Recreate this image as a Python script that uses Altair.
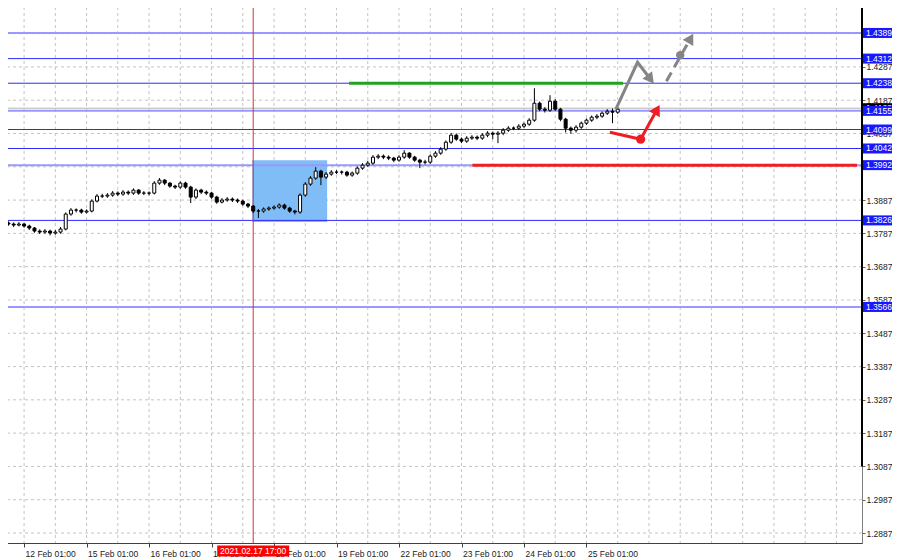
import altair as alt
import pandas as pd

# ---------------- data ----------------
# trading-hour index of each 2-hour bar (0 = 11 Feb 01:00, weekends skipped)
bar_hours = list(range(18, 254, 2))
first_open = 1.3818
close = [
    1.3815, 1.3812, 1.3815, 1.3809, 1.3803, 1.3794, 1.3791, 1.3794, 1.3788, 1.3791,
    1.3800, 1.3845, 1.3857, 1.3857, 1.3851, 1.3854, 1.3884, 1.3899, 1.3899, 1.3902,
    1.3908, 1.3905, 1.3911, 1.3908, 1.3917, 1.3908, 1.3908, 1.3908, 1.3938, 1.3947,
    1.3938, 1.3929, 1.3926, 1.3938, 1.3926, 1.3896, 1.3917, 1.3911, 1.3908, 1.3896,
    1.3881, 1.3887, 1.3890, 1.3887, 1.3884, 1.3875, 1.3869, 1.3854, 1.3854, 1.3860,
    1.3863, 1.3866, 1.3872, 1.3863, 1.3854, 1.3851, 1.3902, 1.3935, 1.3953, 1.3974,
    1.3956, 1.3965, 1.3971, 1.3971, 1.3971, 1.3962, 1.3968, 1.3983, 1.3992, 1.3998,
    1.4016, 1.4019, 1.4016, 1.4013, 1.4007, 1.4016, 1.4028, 1.4016, 1.4007, 1.4001,
    1.4001, 1.4019, 1.4028, 1.4040, 1.4061, 1.4082, 1.4070, 1.4064, 1.4073, 1.4076,
    1.4073, 1.4082, 1.4088, 1.4085, 1.4088, 1.4097, 1.4103, 1.4103, 1.4109, 1.4115,
    1.4127, 1.4178, 1.4160, 1.4157, 1.4184, 1.4160, 1.4130, 1.4103, 1.4097, 1.4106,
    1.4118, 1.4127, 1.4136, 1.4139, 1.4148, 1.4154, 1.4151, 1.4160,
]
high = [
    1.3823, 1.3820, 1.3821, 1.3819, 1.3813, 1.3806, 1.3799, 1.3800, 1.3798, 1.3797,
    1.3806, 1.3850, 1.3863, 1.3862, 1.3861, 1.3859, 1.3889, 1.3905, 1.3906, 1.3908,
    1.3914, 1.3913, 1.3917, 1.3916, 1.3922, 1.3920, 1.3914, 1.3913, 1.3944, 1.3953,
    1.3950, 1.3941, 1.3933, 1.3943, 1.3942, 1.3930, 1.3922, 1.3921, 1.3916, 1.3912,
    1.3900, 1.3893, 1.3896, 1.3895, 1.3892, 1.3888, 1.3879, 1.3872, 1.3860, 1.3865,
    1.3868, 1.3871, 1.3877, 1.3876, 1.3867, 1.3858, 1.3907, 1.3941, 1.3959, 1.3986,
    1.3978, 1.3971, 1.3977, 1.3977, 1.3976, 1.3975, 1.3973, 1.3988, 1.3998, 1.4005,
    1.4022, 1.4025, 1.4024, 1.4021, 1.4017, 1.4022, 1.4037, 1.4031, 1.4020, 1.4011,
    1.4008, 1.4024, 1.4034, 1.4046, 1.4066, 1.4089, 1.4087, 1.4075, 1.4079, 1.4082,
    1.4081, 1.4088, 1.4094, 1.4093, 1.4094, 1.4103, 1.4109, 1.4108, 1.4115, 1.4120,
    1.4133, 1.4223, 1.4183, 1.4166, 1.4202, 1.4190, 1.4164, 1.4134, 1.4108, 1.4112,
    1.4123, 1.4132, 1.4141, 1.4145, 1.4153, 1.4160, 1.4162, 1.4167,
]
low = [
    1.3810, 1.3806, 1.3808, 1.3804, 1.3797, 1.3789, 1.3785, 1.3786, 1.3781, 1.3783,
    1.3786, 1.3796, 1.3840, 1.3850, 1.3846, 1.3847, 1.3850, 1.3880, 1.3893, 1.3894,
    1.3897, 1.3899, 1.3900, 1.3902, 1.3903, 1.3903, 1.3902, 1.3901, 1.3904, 1.3933,
    1.3932, 1.3924, 1.3920, 1.3921, 1.3921, 1.3878, 1.3890, 1.3905, 1.3902, 1.3891,
    1.3876, 1.3877, 1.3882, 1.3881, 1.3878, 1.3870, 1.3863, 1.3848, 1.3833, 1.3849,
    1.3855, 1.3858, 1.3861, 1.3858, 1.3849, 1.3844, 1.3846, 1.3897, 1.3930, 1.3948,
    1.3932, 1.3950, 1.3960, 1.3965, 1.3964, 1.3957, 1.3957, 1.3963, 1.3978, 1.3987,
    1.3993, 1.4010, 1.4010, 1.4007, 1.4001, 1.4002, 1.4011, 1.4011, 1.4002, 1.3983,
    1.3994, 1.3996, 1.4014, 1.4023, 1.4035, 1.4056, 1.4065, 1.4058, 1.4059, 1.4068,
    1.4067, 1.4068, 1.4076, 1.4070, 1.4058, 1.4082, 1.4092, 1.4097, 1.4098, 1.4104,
    1.4110, 1.4122, 1.4154, 1.4150, 1.4152, 1.4155, 1.4124, 1.4090, 1.4086, 1.4090,
    1.4101, 1.4113, 1.4122, 1.4130, 1.4134, 1.4143, 1.4118, 1.4146,
]

date_tick_hours = [24, 48, 72, 96, 120, 144, 168, 192, 216, 240]
date_labels = ["12 Feb 01:00", "15 Feb 01:00", "16 Feb 01:00", "17 Feb 01:00", "18 Feb 01:00",
               "19 Feb 01:00", "22 Feb 01:00", "23 Feb 01:00", "24 Feb 01:00", "25 Feb 01:00"]
grid_hours = [24, 36, 48, 60, 72, 84, 96, 108, 120, 132, 144, 156, 168, 180, 192, 204,
              216, 228, 240, 252, 264, 276, 288, 300, 312, 324, 336]
price_ticks = [1.2887, 1.2987, 1.3087, 1.3187, 1.3287, 1.3387, 1.3487, 1.3587, 1.3687,
               1.3787, 1.3887, 1.3987, 1.4087, 1.4187, 1.4287, 1.4387]

levels_dark = [1.4312, 1.4238, 1.4099, 1.4042, 1.3826]
levels_light = [1.4389, 1.4155, 1.3992, 1.3566]
current_price = [1.4163]
scale_bar_prices = [1.4485, 1.3087]

zone_hours = [111.6, 140.4]
zone_prices = [1.3821, 1.4007]
resistance_hours = [148.8, 254.0]
resistance_price = [1.4238]
support_hours = [196.2, 343.9]
support_price = [1.3992]
crosshair_hour = [112]
crosshair_text = ["2021.02.17 17:00"]

gray_path_h = [251.3, 259.6, 264.6]
gray_path_p = [1.4160, 1.4301, 1.4250]
gray_dash_h = [270.7, 280.0]
gray_dash_p = [1.4244, 1.4373]
gray_dot = [276.0, 1.4322]
red_path_h = [249.0, 260.8, 267.1]
red_path_p = [1.4091, 1.4070, 1.4159]
red_dot = [260.8, 1.4070]

# ---------------- chart ----------------
FONT = "Liberation Sans"
FS = 8.5
xs = alt.Scale(domain=[16.67, 343.9], nice=False, zero=False)
ys = alt.Scale(domain=[1.2857, 1.4485], nice=False, zero=False)

label_expr = "[" + ",".join("'%s'" % s for s in date_labels) + "][round(datum.value/24) - 1]"
x_axis = alt.Axis(values=date_tick_hours, labelExpr=label_expr, title=None, grid=False,
                  orient="bottom", labelAlign="left", labelBaseline="top", labelPadding=2,
                  labelFlush=False, labelOverlap=False, labelBound=False, tickSize=4,
                  tickColor="#404040", domainColor="#404040", labelFont=FONT,
                  labelFontSize=FS, labelColor="#1a1a1a", labelOffset=1)
y_axis = alt.Axis(values=price_ticks, format=".4f", orient="right", title=None, grid=False,
                  tickSize=3, tickColor="#606060", domainColor="#808080", labelPadding=1,
                  labelFont=FONT, labelFontSize=FS, labelColor="#1a1a1a",
                  labelOverlap=False, labelFlush=False, labelBound=False)


def X(field):
    return alt.X(field, type="quantitative", scale=xs, axis=x_axis)


def Y(field):
    return alt.Y(field, type="quantitative", scale=ys, axis=y_axis)


opens = [first_open] + close[:-1]
bars = pd.DataFrame({"h": bar_hours, "open": opens, "close": close, "high": high, "low": low})

grid_v = alt.Chart(pd.DataFrame({"h": grid_hours})).mark_rule(
    color="#c4c4c4", strokeDash=[3, 3], strokeWidth=1).encode(x=X("h"))
grid_h = alt.Chart(pd.DataFrame({"p": price_ticks})).mark_rule(
    color="#c4c4c4", strokeDash=[3, 3], strokeWidth=1).encode(y=Y("p"))

zone = alt.Chart(pd.DataFrame({"h1": [zone_hours[0]], "h2": [zone_hours[1]],
                               "p1": [zone_prices[0]], "p2": [zone_prices[1]]})).mark_rect(
    color="#80bcf6", opacity=1).encode(x=X("h1"), x2="h2", y=Y("p1"), y2="p2")

lv_dark = alt.Chart(pd.DataFrame({"p": levels_dark})).mark_rule(
    color="#2a2aff", strokeWidth=1).encode(y=Y("p"))
lv_light = alt.Chart(pd.DataFrame({"p": levels_light})).mark_rule(
    color="#9898ff", strokeWidth=2).encode(y=Y("p"))
cur_line = alt.Chart(pd.DataFrame({"p": current_price})).mark_rule(
    color="#b4b4b4", strokeWidth=1).encode(y=Y("p"))

cross = alt.Chart(pd.DataFrame({"h": crosshair_hour})).mark_rule(
    color="#e03030", strokeWidth=1).encode(x=X("h"))

wicks = alt.Chart(bars).mark_rule(color="black", strokeWidth=1).encode(
    x=X("h"), y=Y("low"), y2="high")
bodies = alt.Chart(bars).mark_bar(width=3, stroke="black", strokeWidth=1).encode(
    x=X("h"), y=Y("open"), y2="close",
    fill=alt.condition("datum.close >= datum.open", alt.value("white"), alt.value("black")))

res = alt.Chart(pd.DataFrame({"h1": [resistance_hours[0]], "h2": [resistance_hours[1]],
                              "p": resistance_price})).mark_rule(
    color="#1fa21f", strokeWidth=3).encode(x=X("h1"), x2="h2", y=Y("p"))
sup = alt.Chart(pd.DataFrame({"h1": [support_hours[0]], "h2": [support_hours[1]],
                              "p": support_price})).mark_rule(
    color="#f01e1e", strokeWidth=3).encode(x=X("h1"), x2="h2", y=Y("p"))

gray_path = alt.Chart(pd.DataFrame({"h": gray_path_h, "p": gray_path_p, "i": [0, 1, 2]})).mark_line(
    color="#858585", strokeWidth=3).encode(x=X("h"), y=Y("p"), order="i:Q")
gray_dash = alt.Chart(pd.DataFrame({"h": gray_dash_h, "p": gray_dash_p, "i": [0, 1]})).mark_line(
    color="#858585", strokeWidth=3, strokeDash=[10, 6]).encode(x=X("h"), y=Y("p"), order="i:Q")
red_path = alt.Chart(pd.DataFrame({"h": red_path_h, "p": red_path_p, "i": [0, 1, 2]})).mark_line(
    color="#ee1c25", strokeWidth=3).encode(x=X("h"), y=Y("p"), order="i:Q")

head_gray1 = alt.Chart(pd.DataFrame({"h": [gray_path_h[-1]], "p": [gray_path_p[-1]]})).mark_point(
    shape="triangle-up", filled=True, size=150, angle=142, color="#858585", opacity=1).encode(
    x=X("h"), y=Y("p"))
head_gray2 = alt.Chart(pd.DataFrame({"h": [gray_dash_h[-1]], "p": [gray_dash_p[-1]]})).mark_point(
    shape="triangle-up", filled=True, size=150, angle=30, color="#858585", opacity=1).encode(
    x=X("h"), y=Y("p"))
head_red = alt.Chart(pd.DataFrame({"h": [red_path_h[-1]], "p": [red_path_p[-1]]})).mark_point(
    shape="triangle-up", filled=True, size=150, angle=29, color="#ee1c25", opacity=1).encode(
    x=X("h"), y=Y("p"))
dot_gray = alt.Chart(pd.DataFrame({"h": [gray_dot[0]], "p": [gray_dot[1]]})).mark_circle(
    size=70, color="#858585", opacity=1).encode(x=X("h"), y=Y("p"))
dot_red = alt.Chart(pd.DataFrame({"h": [red_dot[0]], "p": [red_dot[1]]})).mark_circle(
    size=85, color="#ee1c25", opacity=1).encode(x=X("h"), y=Y("p"))

scale_bar = alt.Chart(pd.DataFrame({"p1": [scale_bar_prices[0]], "p2": [scale_bar_prices[1]]})).mark_rule(
    color="black", strokeWidth=2).encode(x=alt.value(862), y=Y("p1"), y2="p2")

cur_df = pd.DataFrame({"p": current_price, "label": ["%.4f" % v for v in current_price]})
cur_box = alt.Chart(cur_df).mark_tick(orient="horizontal", size=32, thickness=10, color="black",
                                      opacity=1).encode(x=alt.value(879), y=Y("p"))
cur_txt = alt.Chart(cur_df).mark_text(align="left", baseline="middle", color="white", font=FONT,
                                      fontSize=FS).encode(x=alt.value(866), y=Y("p"), text="label:N")

all_levels = levels_light + levels_dark
lab_df = pd.DataFrame({"p": all_levels, "label": ["%.4f" % v for v in all_levels]})
lab_box = alt.Chart(lab_df).mark_tick(orient="horizontal", size=32, thickness=10, color="#1818ff",
                                      opacity=1).encode(x=alt.value(879), y=Y("p"))
lab_txt = alt.Chart(lab_df).mark_text(align="left", baseline="middle", color="white", font=FONT,
                                      fontSize=FS).encode(x=alt.value(866), y=Y("p"), text="label:N")

date_df = pd.DataFrame({"h": crosshair_hour, "label": crosshair_text})
date_box = alt.Chart(date_df).mark_tick(orient="horizontal", size=72, thickness=11, color="#ff0000",
                                        opacity=1).encode(x=X("h"), y=alt.value(550))
date_txt = alt.Chart(date_df).mark_text(align="center", baseline="middle", color="white", font=FONT,
                                        fontSize=FS).encode(x=X("h"), y=alt.value(550), text="label:N")

chart = alt.layer(
    grid_v, grid_h, zone, lv_dark, lv_light, cur_line, cross, wicks, bodies, res, sup,
    gray_path, gray_dash, red_path, head_gray1, head_gray2, head_red, dot_gray, dot_red,
    scale_bar, cur_box, cur_txt, lab_box, lab_txt, date_box, date_txt,
).properties(
    width=862, height=542,
    padding={"left": -8, "top": -7, "right": 30, "bottom": 17},
    autosize=alt.AutoSizeParams(type="none"),
    background="white",
).configure_view(stroke="#404040", strokeWidth=1)

chart.save("out.html", embed_options={"renderer": "svg", "actions": False})
